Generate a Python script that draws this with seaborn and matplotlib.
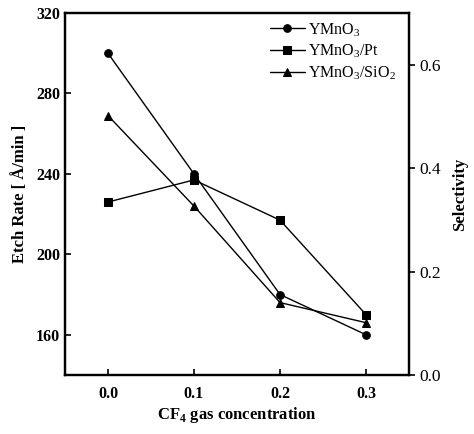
import pandas as pd
import matplotlib
matplotlib.use("Agg")
import matplotlib.pyplot as plt
import seaborn as sns

sns.set_style("ticks")
plt.rcParams["font.family"] = ["Liberation Serif", "DejaVu Serif"]
plt.rcParams["mathtext.fontset"] = "custom"
plt.rcParams["mathtext.rm"] = "Liberation Serif"
plt.rcParams["mathtext.bf"] = "Liberation Serif:bold"
plt.rcParams["axes.edgecolor"] = "black"
plt.rcParams["xtick.color"] = "black"
plt.rcParams["ytick.color"] = "black"
plt.rcParams["text.color"] = "black"
plt.rcParams["axes.labelcolor"] = "black"

# data
cf4 = [0.0, 0.1, 0.2, 0.3]
ymno3 = [300, 240, 180, 160]
ymno3_pt = [226, 237, 217, 170]
ymno3_sio2 = [269, 224, 176, 166]
labels = ["YMnO$_3$", "YMnO$_3$/Pt", "YMnO$_3$/SiO$_2$"]

df = pd.DataFrame({
    "cf4": cf4 * 3,
    "rate": ymno3 + ymno3_pt + ymno3_sio2,
    "sample": [labels[0]] * 4 + [labels[1]] * 4 + [labels[2]] * 4,
})

fig = plt.figure(figsize=(4.74, 4.34), dpi=100)
ax = fig.add_axes([0.137, 0.136, 0.726, 0.834])

sns.lineplot(data=df, x="cf4", y="rate", hue="sample", style="sample",
             markers=["o", "s", "^"], dashes=False,
             palette=["black"] * 3, markersize=5.5, linewidth=1.0,
             markeredgecolor="black", ax=ax)

ax.set_xlim(-0.05, 0.35)
ax.set_ylim(140, 320)
ax.set_xticks([0.0, 0.1, 0.2, 0.3])
ax.set_yticks([160, 200, 240, 280, 320])
ax.tick_params(direction="in", length=4, width=1.2, labelsize=11.5)
ax.tick_params(axis="x", pad=8)
for lab in ax.get_xticklabels() + ax.get_yticklabels():
    lab.set_fontweight("bold")
ax.set_xlabel(r"CF$_\mathbf{4}$ gas concentration", fontsize=12, fontweight="bold", labelpad=2)
ax.set_ylabel("Etch Rate [ Å/min ]", fontsize=12, fontweight="bold", labelpad=6)
for s in ax.spines.values():
    s.set_linewidth(1.6)

ax2 = ax.twinx()
ax2.set_ylim(0, 0.7)
ax2.set_yticks([0.0, 0.2, 0.4, 0.6])
ax2.set_yticklabels(["0.0", "0.2", "0.4", "0.6"])
ax2.tick_params(direction="out", length=4, width=1.2, labelsize=12.5)
ax2.set_ylabel("Selectivity", fontsize=12, fontweight="bold", labelpad=8)
for s in ax2.spines.values():
    s.set_linewidth(1.6)

leg = ax.legend(loc="upper right", frameon=False, fontsize=11.5,
                handlelength=2.2, borderaxespad=0.1, labelspacing=0.25,
                handletextpad=0.2, bbox_to_anchor=(0.985, 1.0))

fig.savefig("out.png", dpi=100)
